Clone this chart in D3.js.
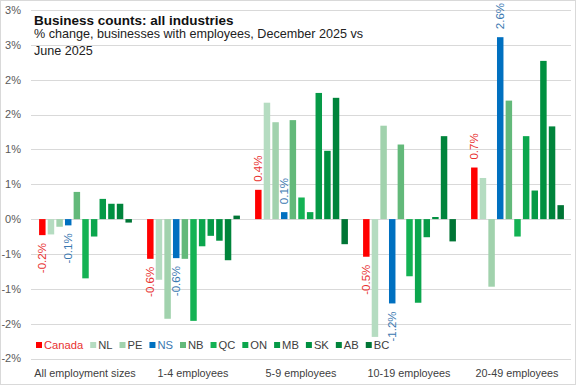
<!DOCTYPE html>
<html>
<head>
<meta charset="utf-8">
<script src="https://cdn.jsdelivr.net/npm/d3@7/dist/d3.min.js"></script>
<style>
  html, body { margin: 0; padding: 0; background: #fff; }
  svg { display: block; font-family: "Liberation Sans", Arial, sans-serif; }
</style>
</head>
<body>
<svg id="chart" width="576" height="385"></svg>
<script>
'use strict';

// categories (employment size groups)
var sizes = ['All employment sizes', '1-4 employees', '5-9 employees', '10-19 employees', '20-49 employees'];
var regions = ['Canada', 'NL', 'PE', 'NS', 'NB', 'QC', 'ON', 'MB', 'SK', 'AB', 'BC'];

// % change per region, one value per size group
var canada = [-0.23, -0.57, 0.42, -0.54, 0.74];
var nl = [-0.22, -0.87, 1.67, -1.69, 0.59];
var pe = [-0.11, -1.43, 1.39, 1.34, -0.97];
var ns = [-0.09, -0.56, 0.10, -1.21, 2.61];
var nb = [0.39, -0.57, 1.42, 1.07, 1.70];
var qc = [-0.85, -1.46, 0.31, -0.82, -0.25];
var on = [-0.25, -0.39, 0.10, -1.20, 1.19];
var mb = [0.29, -0.24, 1.81, -0.26, 0.41];
var sk = [0.22, -0.31, 0.98, 0.03, 2.27];
var ab = [0.22, -0.59, 1.74, 1.19, 1.33];
var bc = [-0.05, 0.05, -0.36, -0.32, 0.20];

var yTicks = [-2, -1.5, -1, -0.5, 0, 0.5, 1, 1.5, 2, 2.5, 3];

var seriesValues = [canada, nl, pe, ns, nb, qc, on, mb, sk, ab, bc];
var colors = {
  Canada: '#ff0000', NL: '#b5dcc1', PE: '#a1d2ad', NS: '#0070c0', NB: '#63b97a',
  QC: '#14b254', ON: '#0ba64d', MB: '#069a47', SK: '#009040', AB: '#00843b', BC: '#007535'
};
var labelled = { Canada: '#e8302f', NS: '#3a78b0' };

var svg = d3.select('#chart');

svg.append('rect')
  .attr('x', 0.5).attr('y', 0.5).attr('width', 575).attr('height', 384)
  .attr('fill', '#fff').attr('stroke', '#d9d9d9');

var x0 = d3.scaleBand().domain(sizes).range([31, 571]);
var x1 = d3.scaleBand().domain(regions).range([7, 102]).paddingInner(0.25).paddingOuter(0.125);
var y = d3.scaleLinear().domain([-2, 3]).range([358.5, 10]);

// gridlines
svg.append('g').selectAll('line').data(yTicks).join('line')
  .attr('x1', 31).attr('x2', 571)
  .attr('y1', function (d) { return Math.round(y(d)) + 0.5; })
  .attr('y2', function (d) { return Math.round(y(d)) + 0.5; })
  .attr('stroke', '#d9d9d9');

// y labels, excel style "0%" rounding
var fmtPct = function (d) {
  var r = Math.sign(d) * Math.round(Math.abs(d));
  return (r === 0 ? 0 : r) + '%';
};
svg.append('g').selectAll('text').data(yTicks).join('text')
  .attr('x', 21).attr('y', function (d) { return y(d); })
  .attr('dy', '0.35em')
  .attr('text-anchor', 'end')
  .attr('font-size', 11).attr('fill', '#595959')
  .text(fmtPct);

// bars
var rows = [];
regions.forEach(function (r, i) {
  sizes.forEach(function (s, j) {
    rows.push({ region: r, size: s, value: seriesValues[i][j] });
  });
});

svg.append('g').selectAll('rect').data(rows).join('rect')
  .attr('x', function (d) { return x0(d.size) + x1(d.region); })
  .attr('width', x1.bandwidth())
  .attr('y', function (d) { return Math.min(y(d.value), y(0)); })
  .attr('height', function (d) { return Math.abs(y(d.value) - y(0)); })
  .attr('fill', function (d) { return colors[d.region]; });

// data labels for Canada and NS
svg.append('g').selectAll('text')
  .data(rows.filter(function (d) { return labelled[d.region]; }))
  .join('text')
  .attr('transform', function (d) {
    var cx = x0(d.size) + x1(d.region) + x1.bandwidth() / 2;
    var cy = d.value < 0 ? y(d.value) + 8 : y(d.value) - 8;
    return 'translate(' + cx + ',' + cy + ') rotate(-90)';
  })
  .attr('dy', '0.35em')
  .attr('text-anchor', function (d) { return d.value < 0 ? 'end' : 'start'; })
  .attr('font-size', 11.5)
  .attr('fill', function (d) { return labelled[d.region]; })
  .text(function (d) { return d.value.toFixed(1) + '%'; });

// category labels
svg.append('g').selectAll('text').data(sizes).join('text')
  .attr('x', function (d) { return x0(d) + x0.bandwidth() / 2; })
  .attr('y', 373.5).attr('dy', '0.35em')
  .attr('text-anchor', 'middle')
  .attr('font-size', 10.8).attr('fill', '#404040')
  .text(function (d) { return d; });

// legend
var legend = svg.append('g');
var lx = 36;
regions.forEach(function (r) {
  legend.append('rect')
    .attr('x', lx).attr('y', 342).attr('width', 6).attr('height', 6)
    .attr('fill', colors[r]);
  var t = legend.append('text')
    .attr('x', lx + 8).attr('y', 345).attr('dy', '0.35em')
    .attr('font-size', 11.2)
    .attr('fill', labelled[r] ? labelled[r] : '#404040')
    .text(r);
  lx += 8 + t.node().getComputedTextLength() + 7;
});

// title
svg.append('text')
  .attr('x', 34).attr('y', 25)
  .attr('font-size', 13.5).attr('font-weight', 'bold').attr('fill', '#111')
  .text('Business counts: all industries');
svg.append('text')
  .attr('x', 34).attr('y', 38)
  .attr('font-size', 12.6).attr('fill', '#222')
  .text('% change, businesses with employees,  December 2025 vs');
svg.append('text')
  .attr('x', 34).attr('y', 55)
  .attr('font-size', 12.6).attr('fill', '#222')
  .text('June 2025');
</script>
</body>
</html>
